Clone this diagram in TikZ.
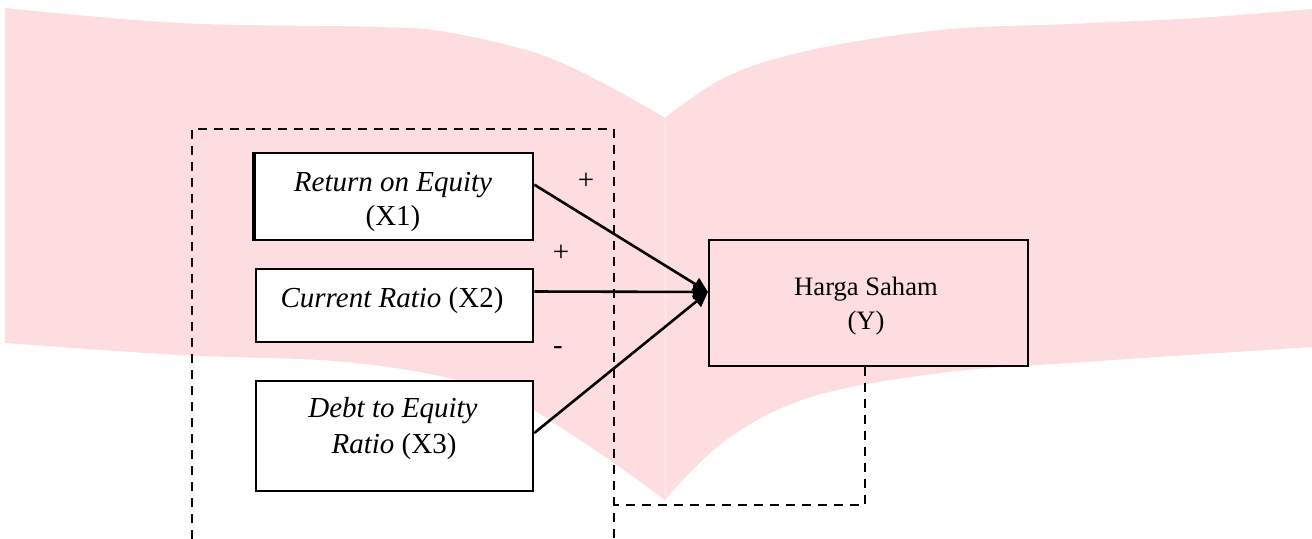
\documentclass[tikz,border=0pt]{standalone}
\usepackage{fontspec}
\setmainfont{Liberation Serif}
\usetikzlibrary{arrows.meta,calc}
\definecolor{bookpink}{RGB}{253,221,224}
\definecolor{spinecol}{RGB}{253,227,230}
\begin{document}
\begin{tikzpicture}[x=0.5pt,y=-0.5pt,
  box/.style={draw=black,line width=1.3pt,inner sep=0pt},
  wbox/.style={box,fill=white},
  txt/.style={inner sep=0pt,anchor=base,font=\fontsize{14.5pt}{17pt}\selectfont},
  ytxt/.style={inner sep=0pt,anchor=base,font=\fontsize{13.3pt}{17pt}\selectfont},
  conn/.style={line width=1.3pt,-{Triangle[length=7.5pt,width=7pt]}},
  frame/.style={line width=1pt,dash pattern=on 4.5pt off 3.5pt}]
\useasboundingbox (0,0) rectangle (1312,539);
% background book watermark
\fill[bookpink] plot[smooth,tension=0.6] coordinates {(5,8) (179,23) (379,27) (446,32) (536,53) (603,83) (665,118)}
 -- plot[smooth,tension=0.6] coordinates {(665,118) (726,77) (811,50) (940,30) (1069,24) (1197,18) (1312,9)}
 -- (1312,347)
 -- plot[smooth,tension=0.6] coordinates {(1312,347) (1069,363) (940,373) (811,397) (726,440) (665,500)}
 -- plot[smooth,tension=0.6] coordinates {(665,500) (580,440) (491,390) (357,363) (179,355) (5,343)}
 -- cycle;
\draw[spinecol,line width=1.5pt] (665,122) -- (665,496);
% dashed frame
\draw[frame] (192,539) -- (192,129) -- (614,129) -- (614,539);
% boxes
\node[wbox,minimum width=140pt,minimum height=43.5pt] (x1) at (393,196.5) {};
\draw[line width=2pt] ([xshift=0.9pt]x1.north west) -- ([xshift=0.9pt]x1.south west);
\node[wbox,minimum width=138.5pt,minimum height=36.5pt] (x2) at (394.5,305.5) {};
\node[wbox,minimum width=138.5pt,minimum height=55pt] (x3) at (394.5,436) {};
\node[box,minimum width=159.5pt,minimum height=63pt] (y) at (868.5,303) {};
% texts
\node[txt] (t1a) at (393,192) {\textit{Return on Equity}};
\node[txt] (t1b) at (393,226) {(X1)};
\node[txt] (t2) at (392,308) {\textit{Current Ratio} (X2)};
\node[txt] (t3a) at (393,418) {\textit{Debt to Equity}};
\node[txt] (t3b) at (394,454) {\textit{Ratio} (X3)};
\node[ytxt] (ty1) at (866,296) {Harga Saham};
\node[ytxt] (ty2) at (866,330) {(Y)};
% signs
\node[txt] (s1) at (586,189.5) {+};
\node[txt] (s2) at (561,261.5) {+};
\node[txt] (s3) at (558,354.5) {-};
% connectors
\coordinate (tip) at (708,292);
\draw[conn] ($(x1.north east)!0.368!(x1.south east)$) -- (tip);
\draw[conn] ($(x2.north east)!0.315!(x2.south east)$) -- (tip);
\draw[conn] ($(x3.north east)!0.473!(x3.south east)$) -- (tip);
% dashed return path
\coordinate (fcorner) at (614,505);
\draw[frame] ([xshift=-1.75pt]y.south) |- (fcorner);
\end{tikzpicture}
\end{document}
